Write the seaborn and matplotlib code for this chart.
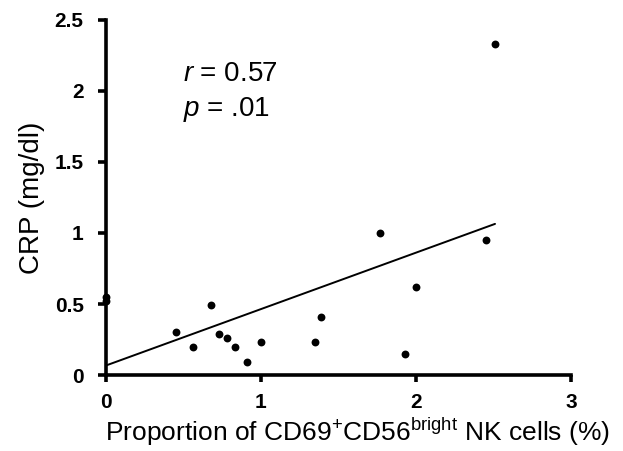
import numpy as np
import pandas as pd
import seaborn as sns
import matplotlib.pyplot as plt

# values
nk_pct = [0.0, 0.0, 0.45, 0.56, 0.68, 0.73, 0.78, 0.83, 0.91, 1.0,
          1.35, 1.39, 1.77, 1.93, 2.0, 2.45, 2.51]
crp = [0.55, 0.52, 0.30, 0.20, 0.49, 0.29, 0.26, 0.20, 0.09, 0.23,
       0.23, 0.41, 1.00, 0.15, 0.62, 0.95, 2.33]
x_ticks = [0, 1, 2, 3]
y_ticks = [0, 0.5, 1, 1.5, 2, 2.5]
y_ticklabels = ["0", "0.5", "1", "1.5", "2", "2.5"]

df = pd.DataFrame({"nk": nk_pct, "crp": crp})

sns.set_style("ticks")
plt.rcParams["font.family"] = ["Liberation Sans", "DejaVu Sans"]
plt.rcParams["mathtext.fontset"] = "custom"
plt.rcParams["mathtext.rm"] = "Liberation Sans"
plt.rcParams["mathtext.it"] = "Liberation Sans:italic"
plt.rcParams["text.color"] = "black"
plt.rcParams["axes.labelcolor"] = "black"
plt.rcParams["axes.edgecolor"] = "black"

fig = plt.figure(figsize=(6.23, 4.51), dpi=100)
ax = fig.add_axes([0.170, 0.1685, 0.7465, 0.7872])

sns.regplot(data=df, x="nk", y="crp", ax=ax, ci=None, truncate=True,
            scatter_kws={"s": 32, "color": "black", "alpha": 1,
                         "linewidths": 0, "clip_on": False},
            line_kws={"color": "black", "lw": 1.4})

ax.set_xlim(0, 3)
ax.set_ylim(0, 2.5)
ax.set_xticks(x_ticks)
ax.set_yticks(y_ticks)
ax.set_yticklabels(y_ticklabels)
for lab in ax.get_xticklabels() + ax.get_yticklabels():
    lab.set_fontweight("bold")
    lab.set_fontsize(15)

sns.despine(ax=ax)
for s in ["left", "bottom"]:
    ax.spines[s].set_linewidth(2.6)
ax.tick_params(width=2.6, colors="black")
ax.tick_params(axis="x", length=5, pad=8)
ax.tick_params(axis="y", length=6, pad=10)

ax.set_ylabel("CRP (mg/dl)", fontsize=20, labelpad=7, color="black")
ax.set_xlabel(r"Proportion of CD69$^{+}$CD56$^{\mathrm{bright}}$ NK cells (%)",
              fontsize=19, labelpad=3, color="black")
ax.xaxis.label.set_x(0.54)

ax.text(0.50, 2.12, r"$r$ = 0.57", fontsize=20, va="center", color="black")
ax.text(0.50, 1.87, r"$p$ = .01", fontsize=20, va="center", color="black")

fig.savefig("out.png", dpi=100)
